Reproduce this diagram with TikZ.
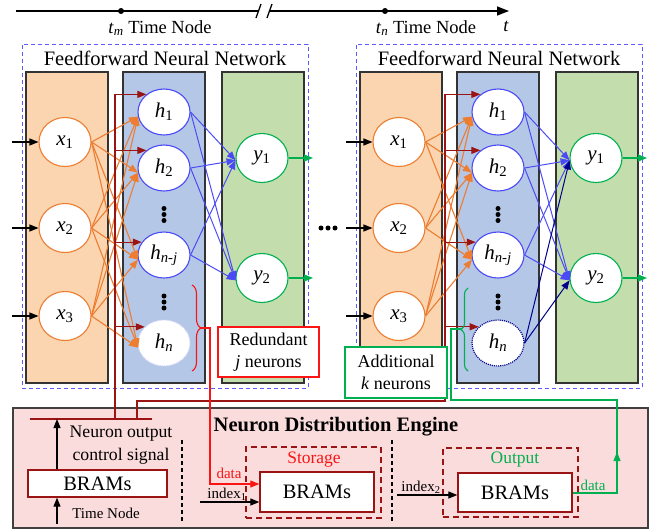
\documentclass[tikz,border=0pt]{standalone}
\usepackage{fontspec}
\setmainfont{Liberation Serif}
\usetikzlibrary{arrows.meta,decorations.pathreplacing,calc,shapes.geometric}
\definecolor{corange}{RGB}{237,125,49}
\definecolor{cfillO}{RGB}{251,213,176}
\definecolor{cfillB}{RGB}{180,199,231}
\definecolor{cfillG}{RGB}{195,222,172}
\definecolor{cblue}{RGB}{75,75,245}
\definecolor{cnavy}{RGB}{0,0,140}
\definecolor{cgreen}{RGB}{0,176,80}
\definecolor{cdred}{RGB}{155,20,20}
\definecolor{cred}{RGB}{250,20,20}
\definecolor{cpink}{RGB}{251,220,220}
\definecolor{cdash}{RGB}{90,90,255}
\tikzset{
 tip/.style={-{Triangle[length=9pt,width=7pt]}},
 netbox/.style={draw=cdash, dash pattern=on 4pt off 3pt, line width=1pt, inner sep=0pt},
 colbox/.style={draw=black!80, line width=1.2pt, inner sep=0pt, minimum width=82pt, minimum height=311pt},
 neuron/.style={ellipse, fill=white, minimum width=52pt, minimum height=49pt, inner sep=0pt, font=\fontsize{21}{24}\selectfont, line width=1.1pt},
 hneuron/.style={neuron, minimum height=46pt, draw=cblue},
 ttl/.style={font=\fontsize{20.5}{24}\selectfont},
 ttl2/.style={font=\fontsize{18.5}{22}\selectfont},
 small/.style={font=\fontsize{15}{18}\selectfont, inner sep=0pt},
 vdot/.style={circle, fill=black, minimum size=5pt, inner sep=0pt},
 oedge/.style={draw=corange, line width=1.1pt, tip},
 bedge/.style={draw=cblue, line width=1pt, tip},
 nedge/.style={draw=cnavy, line width=1pt, tip},
 dredline/.style={draw=cdred, line width=1.1pt},
 bram/.style={draw=cdred, fill=white, line width=1.3pt, inner sep=0pt, font=\fontsize{20.5}{24}\selectfont},
 dashred/.style={draw=cdred, dash pattern=on 6pt off 4pt, line width=1.2pt, inner sep=0pt},
 hnL/.style={draw=cblue!22, densely dotted, line width=1pt},
 hnR/.style={draw=cnavy, densely dotted, line width=1.2pt},
}
\newcommand{\ffnet}[3]{%
\begin{scope}[xshift=#2]
\node[netbox, minimum width=286pt, minimum height=344pt] (#1box) at (165,216) {};
\node[ttl] (#1ttl) at (165,58) {Feedforward Neural Network};
\node[colbox, fill=cfillO] (#1cO) at (67,227.5) {};
\node[colbox, fill=cfillB] (#1cB) at (164,227.5) {};
\node[colbox, fill=cfillG] (#1cG) at (263,227.5) {};
\node[neuron, draw=corange] (#1x1) at (65,142) {\textit{x}\textsubscript{1}};
\node[neuron, draw=corange] (#1x2) at (65,228) {\textit{x}\textsubscript{2}};
\node[neuron, draw=corange] (#1x3) at (65,316) {\textit{x}\textsubscript{3}};
\node[hneuron] (#1h1) at (164,112) {\textit{h}\textsubscript{1}};
\node[hneuron] (#1h2) at (164,168) {\textit{h}\textsubscript{2}};
\node[hneuron] (#1hj) at (164,255) {\textit{h}\textsubscript{\textit{n-j}}};
\node[hneuron, #3] (#1hn) at (164,343) {\textit{h}\textsubscript{\textit{n}}};
\node[neuron, draw=cgreen] (#1y1) at (262,158) {\textit{y}\textsubscript{1}};
\node[neuron, draw=cgreen] (#1y2) at (262,278) {\textit{y}\textsubscript{2}};
\node[vdot] (#1da) at (164,208.5) {};
\node[vdot] (#1db) at (164,214.5) {};
\node[vdot] (#1dc) at (164,220.5) {};
\node[vdot] (#1dd) at (164,296) {};
\node[vdot] (#1de) at (164,302) {};
\node[vdot] (#1df) at (164,308) {};
\coordinate (#1in1) at (12,142);
\coordinate (#1in2) at (12,228);
\coordinate (#1in3) at (12,316);
\coordinate (#1out1) at (313,158);
\coordinate (#1out2) at (313,278);
\foreach \i in {1,2,3} \draw[tip, line width=1.1pt] (#1in\i) -- (#1x\i.west);
\foreach \i in {1,2} \draw[tip, draw=cgreen, line width=1.1pt] (#1y\i.east) -- (#1out\i);
\foreach \s in {1,2,3} \foreach \t in {h1,h2,hj} \draw[oedge] (#1x\s.east) -- (#1\t.190);
\foreach \s in {h1,h2,hj} \foreach \t in {y1,y2} \draw[bedge] (#1\s.east) -- (#1\t.185);
\end{scope}}
\begin{document}
\begin{tikzpicture}[x=1pt,y=-1pt]
\useasboundingbox (0,0) rectangle (658,531);
% timeline
\coordinate (t0) at (16,11);
\coordinate (tb1) at (259,11);
\coordinate (tb2) at (270,11);
\coordinate (t1) at (509,11);
\draw[line width=1.4pt] (t0) -- (tb1);
\draw[line width=1.4pt, -{Triangle[length=12pt,width=9pt]}] (tb2) -- (t1);
\draw[line width=1.3pt] (256,18) -- (261,4);
\draw[line width=1.3pt] (267,18) -- (272,4);
\node[vdot, minimum size=6pt] (tm) at (121,11) {};
\node[vdot, minimum size=6pt] (tn) at (385,11) {};
\node[ttl2] (tml) at (160,28) {\textit{t}\textsubscript{\textit{m}} Time Node};
\node[ttl2] (tnl) at (426,28) {\textit{t}\textsubscript{\textit{n}} Time Node};
\node[ttl2] (tl) at (506,26) {\textit{t}};
% networks
\ffnet{L}{0pt}{hnL}
\ffnet{R}{334pt}{hnR}
\foreach \s in {1,2,3} \draw[oedge] (Lx\s.east) -- (Lhn.190);
\foreach \t in {y1,y2} \draw[nedge] (Rhn.east) -- (R\t.185);
\node[vdot] (m1) at (321,228) {};
\node[vdot] (m2) at (328,228) {};
\node[vdot] (m3) at (335,228) {};
% engine
\node[draw=black!75, fill=cpink, line width=1.4pt, minimum width=635pt, minimum height=120pt, inner sep=0pt] (eng) at (330.5,468) {};
\node[font=\bfseries\fontsize{20.5}{24}\selectfont] (engt) at (336,427) {Neuron Distribution Engine};
\node[bram, minimum width=139pt, minimum height=27pt] (b0) at (97.5,483.5) {BRAMs};
\node[dashred, minimum width=135pt, minimum height=71pt] (sto) at (313.5,482.5) {};
\node[dashred, minimum width=135pt, minimum height=69pt] (outb) at (510.5,482.5) {};
\node[bram, minimum width=114pt, minimum height=40pt] (b1) at (317,492) {BRAMs};
\node[bram, minimum width=114pt, minimum height=39pt] (b2) at (515,492.5) {BRAMs};
\node[font=\fontsize{17.5}{21}\selectfont, text=cred] (stol) at (314,460) {Storage};
\node[font=\fontsize{17.5}{21}\selectfont, text=cgreen] (outl) at (515,460) {Output};
\node[font=\fontsize{17.7}{23}\selectfont, align=center, inner sep=0pt] (nocs) at (121,445) {Neuron output\\control signal};
\node[small] (tnode) at (106,513) {Time Node};
\draw[black, line width=1.1pt, dash pattern=on 4pt off 3pt] (182,440) -- (182,522);
\draw[black, line width=1.1pt, dash pattern=on 4pt off 3pt] (392,440) -- (392,522);
% control signal (dark red)
\coordinate (Lctl) at (115,0);
\coordinate (Rctl) at (445,0);
\foreach \t/\a in {h1/135,h2/135,hj/150,hn/140} {
  \draw[dredline, tip] (L\t.\a -| Lctl) -- (L\t.\a);
  \draw[dredline, tip] (R\t.\a -| Rctl) -- (R\t.\a);
}
\coordinate (bar) at (57,419);
\draw[dredline] (Lh1.135 -| Lctl) -- (115,419);
\draw[dredline] (30,419) -- (152,419);
\draw[dredline] (Rh1.135 -| Rctl) -- (445,401) -- (137,401) -- (137,419);
\draw[tip, line width=1.1pt] (b0.north -| bar) -- (bar);
\coordinate (tin) at (57,524);
\draw[tip, line width=1.1pt] (tin) -- (tin |- b0.south);
% index arrows
\coordinate (i1) at (200,502);
\draw[tip, line width=1.1pt] (i1) -- (i1 -| b1.west);
\node[small] (i1l) at (227,494) {index\textsubscript{1}};
\coordinate (i2) at (397,495);
\draw[tip, line width=1.1pt] (i2) -- (i2 -| b2.west);
\node[small] (i2l) at (421,487) {index\textsubscript{2}};
% redundant
\draw[cred, line width=1.1pt, decorate, decoration={brace, amplitude=9pt}] (192,285) -- (192,371);
\node[draw=cred, fill=white, line width=1.1pt, minimum width=101pt, minimum height=50pt, inner sep=0pt, align=center, font=\fontsize{18}{22}\selectfont] (redb) at (268.5,352) {Redundant\\\textit{j} neurons};
\coordinate (rb) at (201,328);
\coordinate (rd) at (210,484);
\draw[cred, line width=1.1pt, tip] (rb) -- (rb -| rd) -- (rd) -- (rd -| b1.west);
\node[small, text=cred] (rdl) at (229,473) {data};
% additional
\draw[cgreen, line width=1.1pt, decorate, decoration={brace, amplitude=7pt}] (468,371) -- (468,288);
\node[draw=cgreen, fill=white, line width=1.1pt, minimum width=102pt, minimum height=51pt, inner sep=0pt, align=center, font=\fontsize{18}{22}\selectfont] (addb) at (396,372.5) {Additional\\\textit{k} neurons};
\coordinate (gb) at (461,329);
\coordinate (gc) at (617,400);
\coordinate (gd) at (451,400);
\draw[cgreen, line width=1.1pt] (b2.east |- 0,493) -| (gc) -- (gd) |- (gb);
\draw[cgreen, line width=1.1pt, tip] (617,470) -- (617,452);
\node[small, text=cgreen] (gdl) at (593,485) {data};
\end{tikzpicture}
\end{document}
